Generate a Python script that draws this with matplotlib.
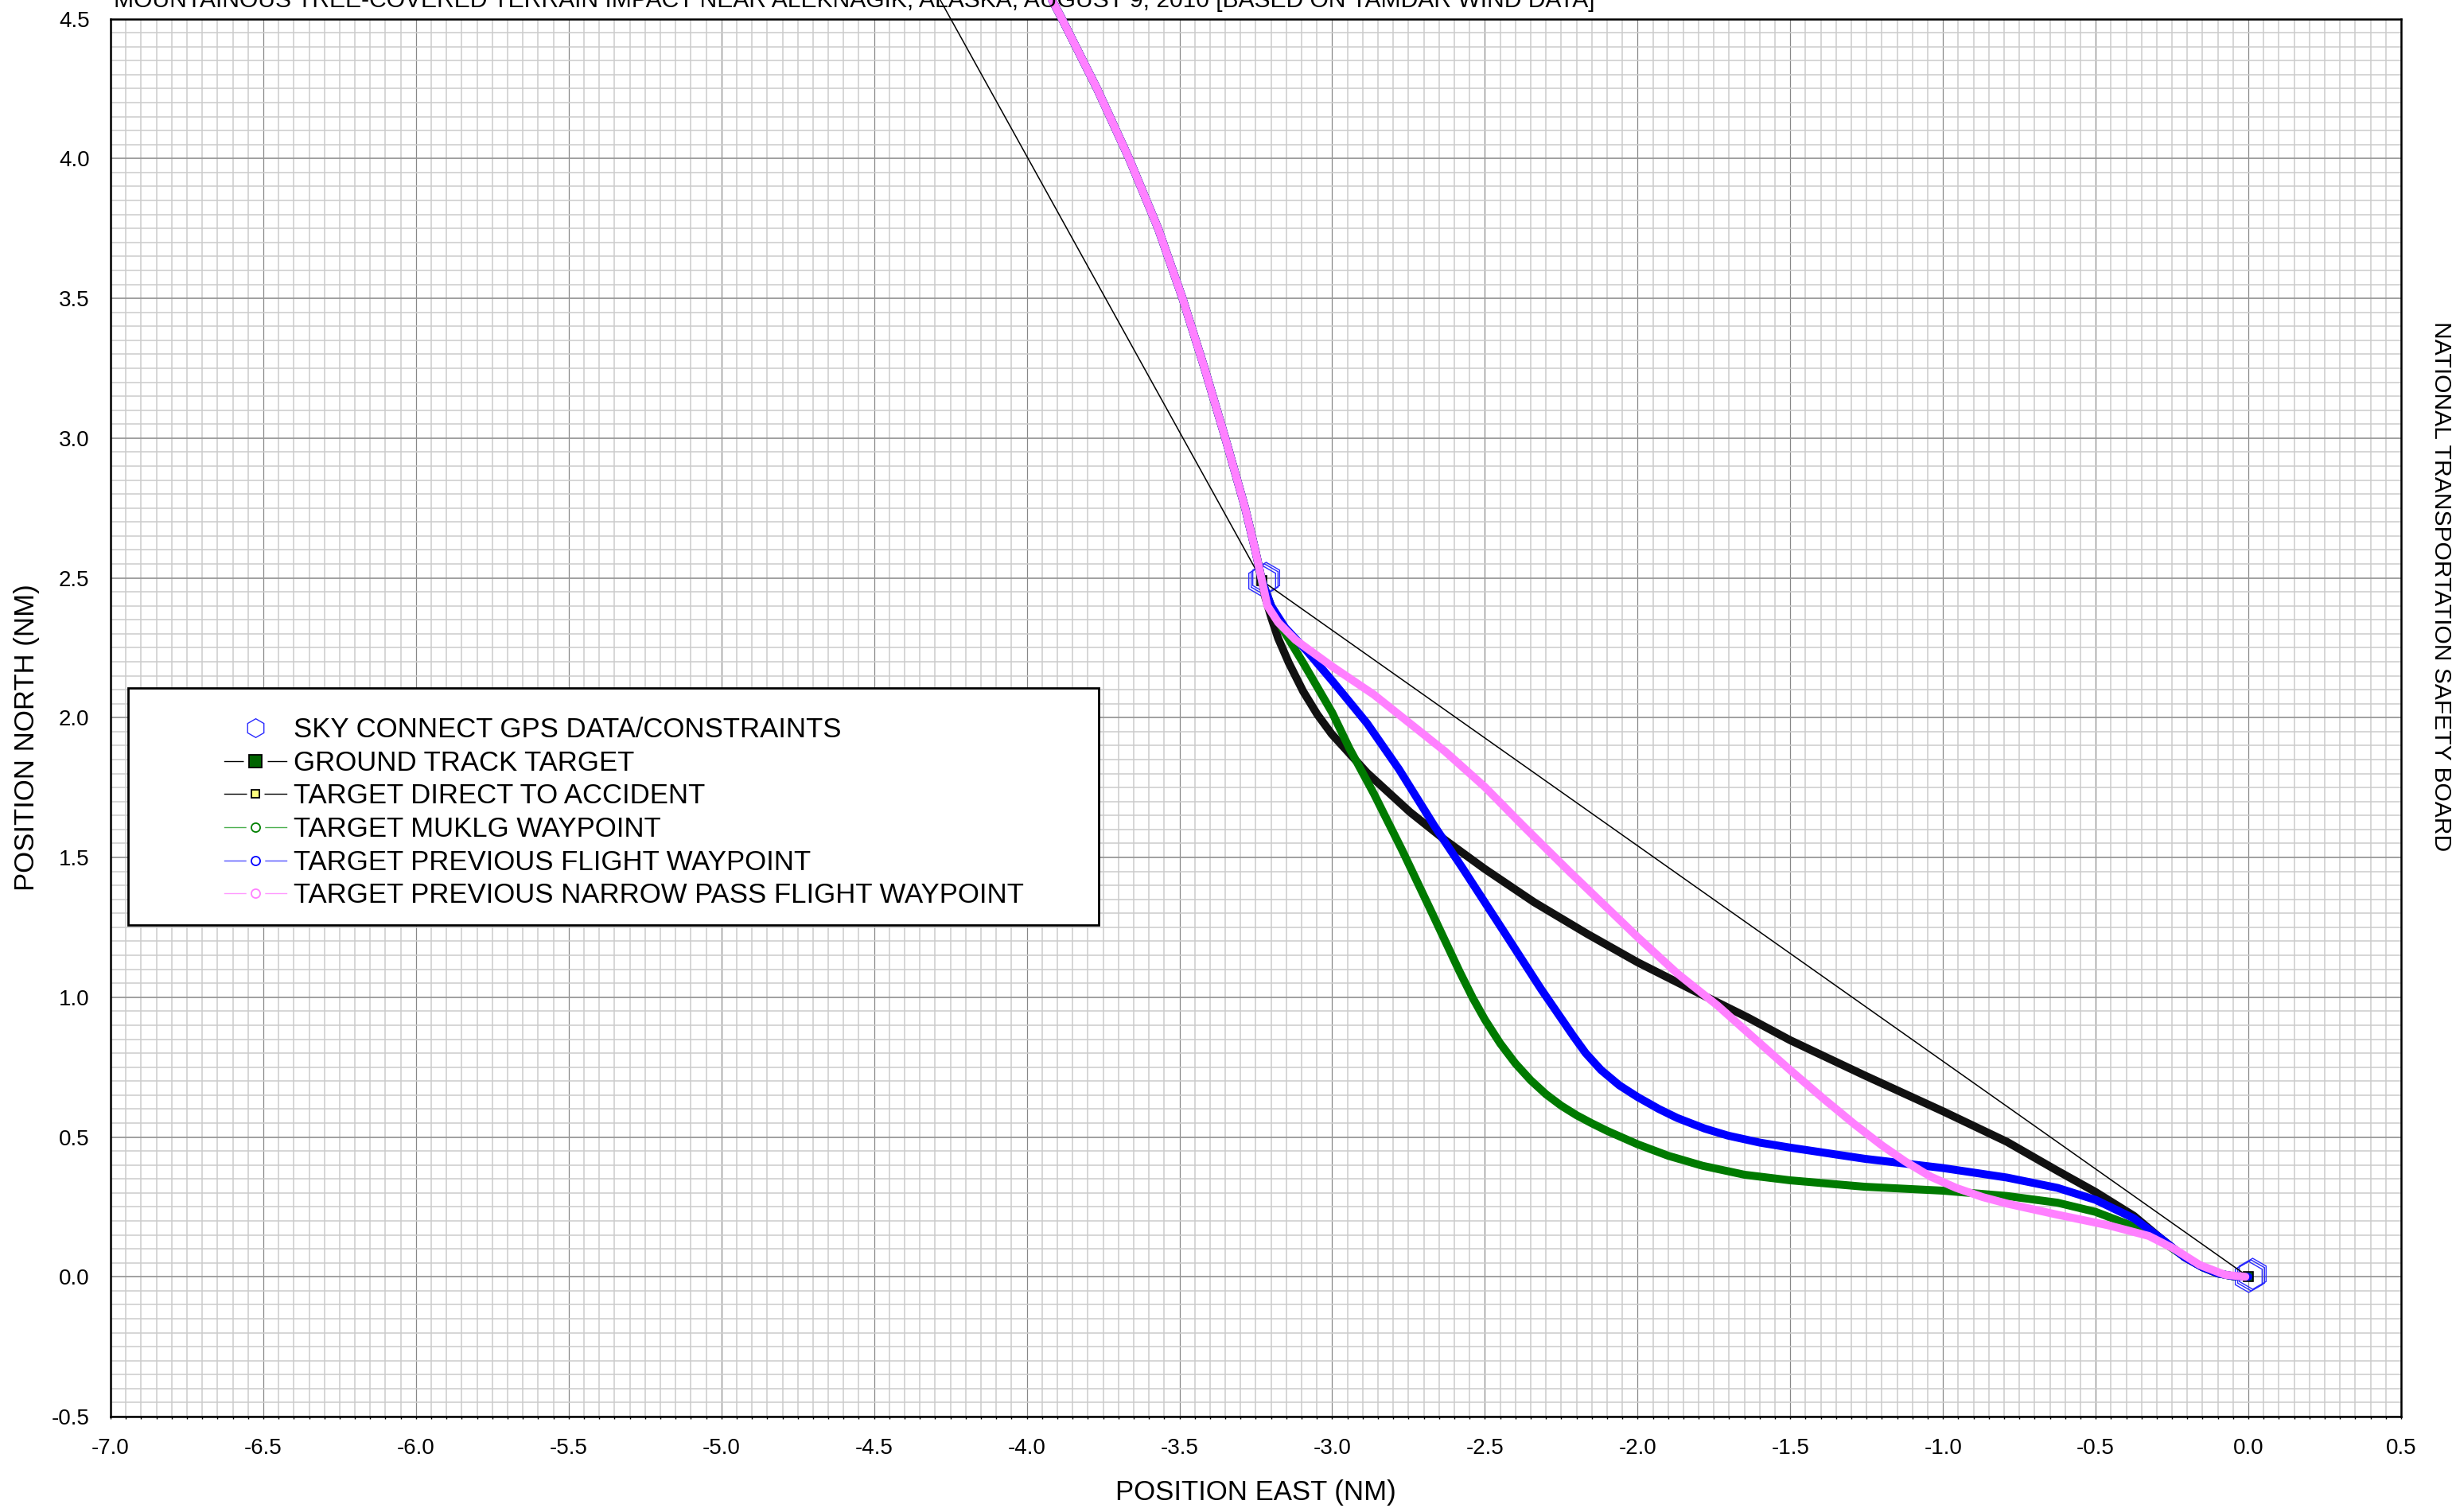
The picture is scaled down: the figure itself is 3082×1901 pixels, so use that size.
import matplotlib
matplotlib.use("Agg")
import matplotlib.pyplot as plt
import numpy as np
from matplotlib.lines import Line2D
from matplotlib.patches import Rectangle
from matplotlib.ticker import MultipleLocator, FormatStrFormatter
from matplotlib.transforms import offset_copy

plt.rcParams['font.family'] = ['Liberation Sans', 'DejaVu Sans']

# shared track north of the GPS constraint (all targets follow it)
upper_east = [-3.933, -3.885, -3.77, -3.665, -3.57, -3.49, -3.418, -3.35, -3.285, -3.252, -3.23]
upper_north = [4.60, 4.50, 4.25, 4.00, 3.75, 3.50, 3.25, 3.00, 2.75, 2.60, 2.49]

# ground track target
ground_east = [-3.219, -3.20, -3.177, -3.142, -3.095, -3.049, -3.002, -2.886, -2.746, -2.630,
               -2.502, -2.339, -2.164, -2.0, -1.815, -1.640, -1.50, -1.256, -1.0, -0.791, -0.625,
               -0.50, -0.375, -0.292, -0.209, -0.15, -0.10, -0.05, 0.0]
ground_north = [2.43, 2.36, 2.284, 2.196, 2.094, 2.012, 1.942, 1.803, 1.663, 1.562,
                1.460, 1.340, 1.226, 1.125, 1.023, 0.928, 0.846, 0.720, 0.592, 0.483, 0.379,
                0.303, 0.218, 0.142, 0.070, 0.034, 0.012, 0.002, 0.0]

# target MUKLG waypoint
muklg_east = [-3.20, -3.165, -3.095, -3.0, -2.944, -2.863, -2.770, -2.676, -2.583, -2.54, -2.50,
              -2.45, -2.40, -2.35, -2.30, -2.25, -2.20, -2.15, -2.10, -2.0, -1.9, -1.787, -1.65,
              -1.5, -1.256, -1.0, -0.791, -0.625, -0.50, -0.375, -0.292, -0.209, -0.15, -0.10,
              -0.05, 0.0]
muklg_north = [2.40, 2.322, 2.196, 2.018, 1.891, 1.727, 1.524, 1.308, 1.092, 0.998, 0.92,
               0.835, 0.763, 0.703, 0.653, 0.612, 0.578, 0.549, 0.522, 0.474, 0.433, 0.397, 0.365,
               0.345, 0.322, 0.308, 0.289, 0.265, 0.232, 0.180, 0.133, 0.072, 0.034, 0.012,
               0.002, 0.0]

# target previous flight waypoint
prev_east = [-3.20, -3.154, -3.084, -3.0, -2.886, -2.781, -2.665, -2.572, -2.444, -2.316, -2.26,
             -2.211, -2.17, -2.12, -2.06, -2.0, -1.93, -1.870, -1.78, -1.704, -1.6, -1.5, -1.256,
             -1.0, -0.791, -0.625, -0.50, -0.375, -0.292, -0.209, -0.15, -0.10, -0.05, 0.0]
prev_north = [2.40, 2.322, 2.240, 2.132, 1.980, 1.815, 1.612, 1.460, 1.245, 1.029, 0.94,
              0.862, 0.80, 0.74, 0.685, 0.643, 0.600, 0.568, 0.530, 0.505, 0.480, 0.462, 0.422,
              0.389, 0.355, 0.318, 0.275, 0.209, 0.142, 0.070, 0.034, 0.012, 0.002, 0.0]

# target previous narrow pass flight waypoint
narrow_east = [-3.212, -3.177, -3.12, -3.0, -2.863, -2.746, -2.63, -2.5, -2.374, -2.222, -2.1,
               -2.0, -1.87, -1.738, -1.62, -1.5, -1.389, -1.289, -1.2, -1.123, -1.04, -0.957,
               -0.87, -0.791, -0.625, -0.458, -0.326, -0.243, -0.159, -0.076, -0.01]
narrow_north = [2.40, 2.341, 2.278, 2.183, 2.082, 1.98, 1.879, 1.752, 1.612, 1.448, 1.32,
                1.215, 1.085, 0.97, 0.855, 0.739, 0.635, 0.545, 0.47, 0.412, 0.358, 0.318,
                0.285, 0.262, 0.222, 0.184, 0.146, 0.100, 0.042, 0.007, 0.0]

# direct line to accident
direct_east = [-4.30, -3.23, 0.0]
direct_north = [4.60, 2.49, 0.0]

# sky connect gps points
gps_east = [-3.23, 0.0]
gps_north = [2.49, 0.0]

labels = ['SKY CONNECT GPS DATA/CONSTRAINTS', 'GROUND TRACK TARGET', 'TARGET DIRECT TO ACCIDENT',
          'TARGET MUKLG WAYPOINT', 'TARGET PREVIOUS FLIGHT WAYPOINT',
          'TARGET PREVIOUS NARROW PASS FLIGHT WAYPOINT']

W, H = 3082, 1901
fig = plt.figure(figsize=(W / 100, H / 100), dpi=100)
ax = fig.add_axes([139 / W, 1 - 1781 / H, (3018 - 139) / W, (1781 - 23.6) / H])

ax.set_xlim(-7.0, 0.5)
ax.set_ylim(-0.5, 4.5)
ax.xaxis.set_major_locator(MultipleLocator(0.5))
ax.yaxis.set_major_locator(MultipleLocator(0.5))
ax.xaxis.set_minor_locator(MultipleLocator(0.05))
ax.yaxis.set_minor_locator(MultipleLocator(0.05))
ax.xaxis.set_major_formatter(FormatStrFormatter('%.1f'))
ax.yaxis.set_major_formatter(FormatStrFormatter('%.1f'))
ax.set_axisbelow(True)
ax.grid(which='minor', color='#cccccc', lw=1.1)
ax.xaxis.grid(which='major', color='#888888', lw=0.9)
ax.yaxis.grid(which='major', color='#999999', lw=1.3)
ax.tick_params(axis='x', which='both', direction='out', length=2.5, width=1, pad=17, labelsize=20)
ax.tick_params(axis='y', which='both', length=0, pad=19, labelsize=20)
for s in ax.spines.values():
    s.set_linewidth(1.8)

# gps hexagons, drawn as three slightly offset outlines
for dx, dy in [(0, 0), (2.5, 2), (5, 4)]:
    tr = offset_copy(ax.transData, fig=fig, x=dx, y=dy, units='dots')
    ax.plot(gps_east, gps_north, ls='none', marker='h', ms=28, mfc='none', mec='#2a2aff',
            mew=1.0, transform=tr, zorder=2, clip_on=False)

ax.plot(direct_east, direct_north, color='black', lw=1.1, zorder=2.5, clip_on=False)

wp = len(upper_east) - 1
tracks = [
    (ground_east, ground_north, '#111111', 3),
    (muklg_east, muklg_north, '#007a00', 4),
    (prev_east, prev_north, '#0000ff', 5),
    (narrow_east, narrow_north, '#ff80ff', 6),
]
for e, n, c, z in tracks:
    ax.plot(upper_east + e, upper_north + n, color=c, lw=7.2, zorder=z,
            solid_joinstyle='round', solid_capstyle='round', clip_on=False)

ax.plot(upper_east + ground_east, upper_north + ground_north, ls='none', marker='s', ms=8,
        mfc='#006400', mec='black', mew=1.2, markevery=[wp, wp + len(ground_east)], zorder=3.5)

ax.set_xlabel('POSITION EAST (NM)', fontsize=25, va='center')
ax.set_ylabel('POSITION NORTH (NM)', fontsize=25, va='center')
ax.xaxis.set_label_coords(0.4998, -0.0546)
ax.yaxis.set_label_coords(-0.0368, 0.486)

fig.text(143 / W, 1 - 9 / H,
         'MOUNTAINOUS TREE-COVERED TERRAIN IMPACT NEAR ALEKNAGIK, ALASKA, AUGUST 9, 2010 [BASED ON TAMDAR WIND DATA]',
         fontsize=21.6, ha='left', va='baseline')
fig.text(3068 / W, 1 - 737 / H, 'NATIONAL TRANSPORTATION SAFETY BOARD', fontsize=21.6,
         rotation=-90, ha='center', va='center')

# legend box
fig.add_artist(Rectangle((161 / W, 1 - 1163 / H), (1381 - 161) / W, (1163 - 865) / H,
                         transform=fig.transFigure, facecolor='white', edgecolor='black',
                         lw=2, zorder=9))


def entry(color, marker, ms, mfc, mec, lw=1.0):
    line = Line2D([], [], color=color, lw=lw)
    gap = Line2D([], [], ls='none', marker=marker, ms=ms + 9, mfc='white', mec='none')
    mk = Line2D([], [], ls='none', marker=marker, ms=ms, mfc=mfc, mec=mec, mew=1.3)
    return (line, gap, mk)


handles = [
    Line2D([], [], ls='none', marker='h', ms=17, mfc='none', mec='#2a2aff', mew=1.0),
    entry('black', 's', 12, '#006400', 'black'),
    entry('black', 's', 7, '#ffff80', 'black'),
    entry('#4caf50', 'o', 8, 'white', '#008000'),
    entry('#5050ff', 'o', 8, 'white', '#0000ff'),
    entry('#ff99ff', 'o', 8, 'white', '#ff80ff'),
]
leg = fig.legend(handles, labels, loc='upper left', bbox_to_anchor=(281.5 / W, 1 - 901 / H),
                 frameon=False, fontsize=25, borderpad=0, borderaxespad=0,
                 handlelength=2.25, handletextpad=0.28, labelspacing=0.25)
leg.set_zorder(10)

fig.savefig('out.png', dpi=100)
